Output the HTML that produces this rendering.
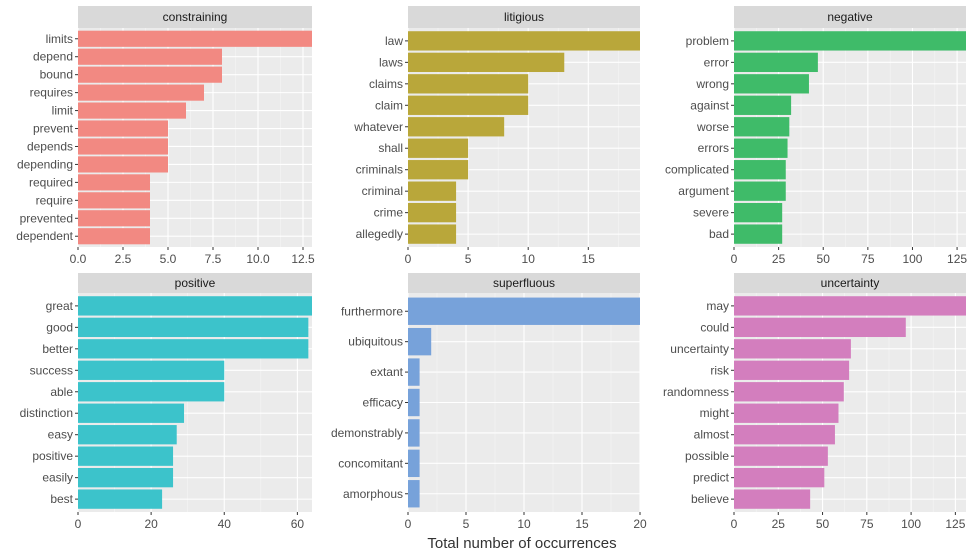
<!DOCTYPE html>
<html><head><meta charset="utf-8">
<style>
html,body{margin:0;padding:0;background:#fff;}
svg{display:block;font-family:"Liberation Sans",Arial,sans-serif;}
</style></head>
<body>
<svg id="chart" width="975" height="555" viewBox="0 0 975 555" xmlns="http://www.w3.org/2000/svg">
<text x="522" y="548" text-anchor="middle" font-size="15" fill="#333">Total number of occurrences</text>
</svg>
<script>
const panelTitles = ["constraining","litigious","negative","positive","superfluous","uncertainty"];
const cats0 = ["limits","depend","bound","requires","limit","prevent","depends","depending","required","require","prevented","dependent"];
const vals0 = [13,8,8,7,6,5,5,5,4,4,4,4];
const cats1 = ["law","laws","claims","claim","whatever","shall","criminals","criminal","crime","allegedly"];
const vals1 = [19.3,13,10,10,8,5,5,4,4,4];
const cats2 = ["problem","error","wrong","against","worse","errors","complicated","argument","severe","bad"];
const vals2 = [130,47,42,32,31,30,29,29,27,27];
const cats3 = ["great","good","better","success","able","distinction","easy","positive","easily","best"];
const vals3 = [64,63,63,40,40,29,27,26,26,23];
const cats4 = ["furthermore","ubiquitous","extant","efficacy","demonstrably","concomitant","amorphous"];
const vals4 = [20,2,1,1,1,1,1];
const cats5 = ["may","could","uncertainty","risk","randomness","might","almost","possible","predict","believe"];
const vals5 = [131,97,66,65,62,59,57,53,51,43];
const xMax = [13,19.3,130,64,20,131];
const ticks0 = [0,2.5,5,7.5,10,12.5];
const ticks1 = [0,5,10,15];
const ticks2 = [0,25,50,75,100,125];
const ticks3 = [0,20,40,60];
const ticks4 = [0,5,10,15,20];
const ticks5 = [0,25,50,75,100,125];
const tickLabels0 = ["0.0","2.5","5.0","7.5","10.0","12.5"];

const colors = ["#F28982","#B9A73A","#3FBB69","#3CC3CB","#77A2DA","#D37EBE"];
const allCats=[cats0,cats1,cats2,cats3,cats4,cats5];
const allVals=[vals0,vals1,vals2,vals3,vals4,vals5];
const allTicks=[ticks0,ticks1,ticks2,ticks3,ticks4,ticks5];
const colX=[[78,312],[408,640],[734,966]];
const rowY=[[6,28,247,263],[273,293,512,528]];
const svg=document.getElementById('chart');
const NS="http://www.w3.org/2000/svg";
function mk(t,a,p){const e=document.createElementNS(NS,t);for(const k in a)e.setAttribute(k,a[k]);(p||svg).appendChild(e);return e;}

for(let i=0;i<6;i++){
  const [x0,x1]=colX[i%3];const [sy,y0,y1,ly]=rowY[Math.floor(i/3)];
  const cats=allCats[i],vals=allVals[i],ticks=allTicks[i];
  const g=mk('g',{});
  
  
  const xs=v=>x0+(x1-x0)*v/xMax[i];
  const n=cats.length,unit=(y1-y0)/(n+0.2);
  const yc=k=>y0+(0.6+k)*unit;
  const bg=mk('rect',{x:x0,y:y0,width:x1-x0,height:y1-y0,fill:'#EBEBEB'},g);
  
  
  const strip=mk('rect',{x:x0,y:sy,width:x1-x0,height:y0-sy,fill:'#D9D9D9'},g);
  
  
  const st=mk('text',{x:(x0+x1)/2,y:(sy+y0)/2+4,'text-anchor':'middle','font-size':'12',fill:'#1A1A1A'},g);
  st.textContent=panelTitles[i];
  
  
  for(let t=0;t<ticks.length;t++){
    const step=ticks.length>1?ticks[1]-ticks[0]:1;
    const m=ticks[t]+step/2;
    if(m<xMax[i]) mk('line',{x1:xs(m),x2:xs(m),y1:y0,y2:y1,stroke:'#F5F5F5','stroke-width':0.6},g);
  }
  ticks.forEach(t=>{
    mk('line',{x1:xs(t),x2:xs(t),y1:y0,y2:y1,stroke:'#fff','stroke-width':1.1},g);
    mk('line',{x1:xs(t),x2:xs(t),y1:y1,y2:y1+3,stroke:'#333','stroke-width':1},g);
    const tl=mk('text',{x:xs(t),y:ly,'text-anchor':'middle','font-size':'12',fill:'#4D4D4D'},g);
    tl.textContent=i===0?tickLabels0[ticks0.indexOf(t)]:String(t);
    
    
  });
  cats.forEach((c,k)=>{
    mk('line',{x1:x0,x2:x1,y1:yc(k),y2:yc(k),stroke:'#fff','stroke-width':1.1},g);
  });
  cats.forEach((c,k)=>{
    const b=mk('rect',{x:x0,y:yc(k)-0.45*unit,width:xs(Math.min(vals[k],xMax[i]))-x0,height:0.9*unit,fill:colors[i]},g);
    
    
    mk('line',{x1:x0-3,x2:x0,y1:yc(k),y2:yc(k),stroke:'#333','stroke-width':1},g);
    const lt=mk('text',{x:x0-5,y:yc(k)+4,'text-anchor':'end','font-size':'12',fill:'#4D4D4D'},g);
    lt.textContent=c;
    
    
  });
}
</script>
</body></html>
